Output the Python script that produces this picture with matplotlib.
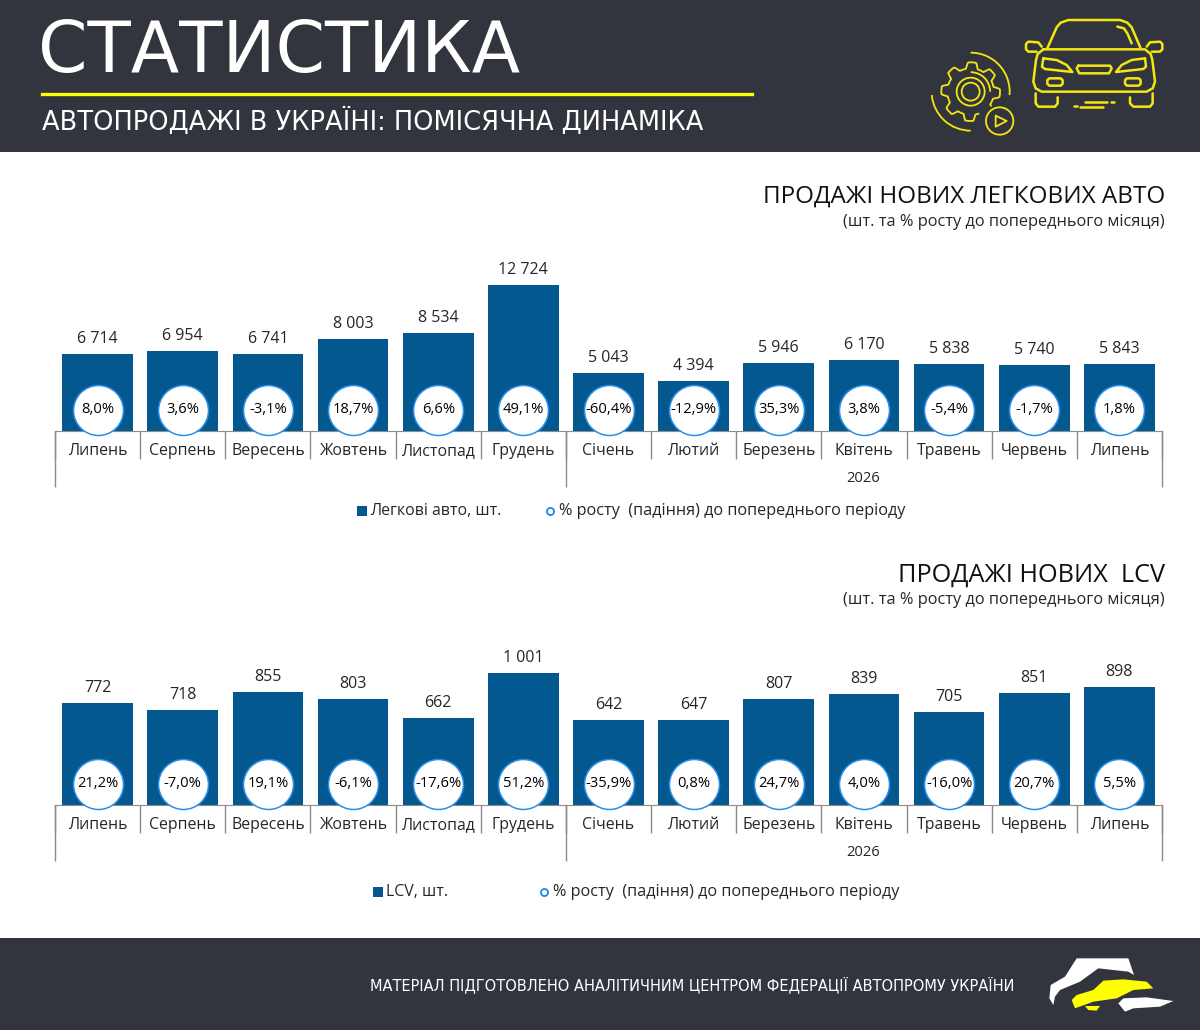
import numpy as np
from matplotlib import pyplot as plt
from matplotlib.patches import Arc, Circle, FancyBboxPatch, Polygon, Rectangle

months = ['Липень', 'Серпень', 'Вересень', 'Жовтень', 'Листопад', 'Грудень', 'Січень',
          'Лютий', 'Березень', 'Квітень', 'Травень', 'Червень', 'Липень']
cars = [6714, 6954, 6741, 8003, 8534, 12724, 5043, 4394, 5946, 6170, 5838, 5740, 5843]
cars_pct = [8.0, 3.6, -3.1, 18.7, 6.6, 49.1, -60.4, -12.9, 35.3, 3.8, -5.4, -1.7, 1.8]
lcv = [772, 718, 855, 803, 662, 1001, 642, 647, 807, 839, 705, 851, 898]
lcv_pct = [21.2, -7.0, 19.1, -6.1, -17.6, 51.2, -35.9, 0.8, 24.7, 4.0, -16.0, 20.7, 5.5]
year_label = '2026'

DARK = '#32353e'
YELLOW = '#ffff00'
ICON = '#f4e610'
BAR = '#03588f'
RING = '#2a8fe8'
GREY = '#8c8c8c'
TEXT = '#262626'
W, H = 1200, 1030

plt.rcParams['font.family'] = ['Open Sans', 'DejaVu Sans']
fig = plt.figure(figsize=(W / 100, H / 100), dpi=100)

page = fig.add_axes([0, 0, 1, 1])
page.set_xlim(0, W)
page.set_ylim(H, 0)
page.axis('off')


def line(points, origin, lw=1.8):
    xs = [origin[0] + p[0] / 3 for p in points]
    ys = [origin[1] + p[1] / 3 for p in points]
    page.plot(xs, ys, color=ICON, lw=lw, solid_capstyle='round', solid_joinstyle='round')


def round_box(x0, y0, x1, y1, origin, pad=3):
    page.add_patch(FancyBboxPatch((origin[0] + x0 / 3, origin[1] + y0 / 3), (x1 - x0) / 3, (y1 - y0) / 3,
                                  boxstyle=f'round,pad=0,rounding_size={pad}', fc='none', ec=ICON, lw=1.8))


def draw_icons():
    o = (900, 10)
    line([(442, 115), (470, 52), (482, 38), (505, 30), (660, 30), (682, 38), (695, 52), (722, 115)], o)
    line([(430, 118), (735, 118), (752, 132), (757, 150), (765, 215), (758, 235), (740, 245), (425, 245),
          (407, 235), (400, 215), (408, 150), (413, 132), (430, 118)], o)
    line([(652, 50), (672, 55), (682, 70), (695, 100)], o)
    line([(425, 110), (415, 97), (385, 95), (378, 102), (378, 118), (385, 125), (410, 125)], o)
    line([(740, 110), (750, 97), (780, 95), (787, 102), (787, 118), (780, 125), (755, 125)], o)
    line([(430, 145), (470, 150), (500, 165), (517, 186), (435, 177), (426, 170), (430, 145)], o)
    line([(735, 145), (695, 150), (665, 165), (648, 186), (730, 177), (738, 170), (735, 145)], o)
    line([(535, 167), (630, 167), (635, 175), (627, 190), (538, 190), (530, 175), (535, 167)], o)
    round_box(442, 205, 488, 227, o)
    round_box(675, 205, 722, 227, o)
    line([(407, 250), (407, 280), (415, 290), (465, 290), (473, 280), (473, 262)], o)
    line([(690, 262), (690, 280), (700, 290), (750, 290), (758, 280), (758, 250)], o)
    line([(555, 277), (622, 277)], o)
    line([(632, 277), (642, 277)], o)
    line([(522, 289), (532, 289)], o)
    line([(540, 290), (610, 290)], o)

    # gear
    cx, cy = 212, 245
    t = np.linspace(np.radians(-35), np.radians(290), 330)
    r = 79 + 9 * np.clip(2.2 * np.cos(8 * t + 0.4), -1, 1)
    line(list(zip(cx + r * np.cos(t), cy - r * np.sin(t))), o, lw=1.3)
    gc = (o[0] + cx / 3, o[1] + cy / 3)
    for radius in (14, 9):
        page.add_patch(Circle(gc, radius, fc='none', ec=ICON, lw=1.3))
    for radius, a0, a1 in ((39, -5, 90), (39, 185, 270), (19.5, 0, 90)):
        # page y axis points down, so the angles run the other way
        page.add_patch(Arc(gc, radius * 2, radius * 2, theta1=-a1, theta2=-a0, ec=ICON, lw=1.3))
    page.add_patch(Circle((o[0] + 299 / 3, o[1] + 333 / 3), 13.7, fc='none', ec=ICON, lw=1.3))
    line([(287, 317), (320, 333), (287, 350), (287, 317)], o, lw=1.3)


def draw_logo():
    o = (960, 940)
    def pts(seq):
        return [(o[0] + x / 3, o[1] + y / 3) for x, y in seq]
    page.add_patch(Polygon(pts([(280, 195), (268, 175), (272, 135), (315, 110), (350, 55), (505, 55), (522, 105),
                                (505, 95), (415, 85), (360, 125), (300, 150), (285, 170)]), fc='white', ec='none'))
    page.add_patch(Polygon(pts([(335, 180), (350, 165), (400, 150), (430, 122), (490, 118), (560, 125), (580, 145),
                                (520, 150), (470, 175), (400, 185), (345, 205)]), fc=YELLOW, ec='none'))
    page.add_patch(Polygon(pts([(375, 198), (420, 198), (410, 212), (385, 210)]), fc=YELLOW, ec='none'))
    page.add_patch(Polygon(pts([(475, 190), (490, 175), (560, 172), (640, 183), (600, 200), (520, 205),
                                (495, 215)]), fc='white', ec='none'))


def draw_chart(values, pct, top, base, px_per_unit):
    left, right = 55, 1162
    ax = fig.add_axes([left / W, 1 - base / H, (right - left) / W, (base - top) / H])
    ax.patch.set_alpha(0)
    x = np.arange(len(values))
    ax.bar(x, values, width=0.83, color=BAR)
    ax.set_xlim(-0.5, len(values) - 0.5)
    ax.set_ylim(0, (base - top) / px_per_unit)
    ax.set_yticks([])
    for side in ('top', 'left', 'right'):
        ax.spines[side].set_visible(False)
    ax.spines['bottom'].set_color(GREY)

    ax.set_xticks(x, months, fontsize=11.4, color=TEXT)
    ax.tick_params(axis='x', length=0, pad=8.5)
    ax.set_xticks(np.arange(-0.5, len(values)), minor=True)
    ax.tick_params(axis='x', which='minor', length=20, color=GREY, width=1)

    years = ax.secondary_xaxis('bottom')
    years.set_xticks([-0.5, 5.5, len(values) - 0.5], labels=['', '', ''])
    years.tick_params(length=40, color=GREY, width=1)
    years.spines['bottom'].set_visible(False)
    ax.annotate(year_label, xy=(8.99, 0), xycoords=('data', 'axes fraction'), xytext=(0, -34.5),
                textcoords='offset points', ha='center', va='center', fontsize=10.6, color=TEXT)

    for xi, v in zip(x, values):
        ax.annotate(f'{v:,}'.replace(',', ' '), xy=(xi, v), xytext=(0, 5), textcoords='offset points',
                    ha='center', va='bottom', fontsize=11.5, color=TEXT)
    level = 21.5 / (base - top)
    ax.scatter(x, np.full(len(x), level), s=1296, transform=ax.get_xaxis_transform(), fc='white', ec=RING,
               lw=1.1, clip_on=False, zorder=4)
    for xi, p in zip(x, pct):
        ax.text(xi, level, f'{p:.1f}%'.replace('.', ','), transform=ax.get_xaxis_transform(), ha='center',
                va='center', fontsize=10.6, color='black', zorder=5)
    return ax


def draw_legend(y, square_x, label, circle_x):
    page.add_patch(Rectangle((square_x, y - 5), 10, 10, fc=BAR, ec='none'))
    page.text(square_x + 13, y, label, fontsize=11.4, color=TEXT, va='center')
    page.scatter([circle_x], [y], s=26, fc='white', ec=RING, lw=1.4)
    page.text(circle_x + 9, y, '% росту  (падіння) до попереднього періоду', fontsize=11.7, color=TEXT, va='center')


page.add_patch(Rectangle((0, 0), W, 152, fc=DARK, ec='none'))
page.add_patch(Rectangle((0, 938), W, 92, fc=DARK, ec='none'))
page.plot([42, 752], [94, 94], color=YELLOW, lw=2.4)
page.text(38, 72, 'СТАТИСТИКА', color='white', fontsize=51, family='DejaVu Sans', va='baseline')
page.text(42, 130, 'АВТОПРОДАЖІ В УКРАЇНІ: ПОМІСЯЧНА ДИНАМІКА', color='white', fontsize=18.5,
          family='DejaVu Sans', va='baseline')
page.text(1015, 985, 'МАТЕРІАЛ ПІДГОТОВЛЕНО АНАЛІТИЧНИМ ЦЕНТРОМ ФЕДЕРАЦІЇ АВТОПРОМУ УКРАЇНИ', color='white',
          fontsize=10.5, family='DejaVu Sans', ha='right', va='center')
draw_icons()
draw_logo()

page.text(1165, 197, 'ПРОДАЖІ НОВИХ ЛЕГКОВИХ АВТО', fontsize=17.5, color='#111111', ha='right', va='center')
page.text(1165, 222, '(шт. та % росту до попереднього місяця)', fontsize=11.8, color=TEXT, ha='right', va='center')
page.text(1165, 575, 'ПРОДАЖІ НОВИХ  LCV', fontsize=18.2, color='#111111', ha='right', va='center')
page.text(1165, 600, '(шт. та % росту до попереднього місяця)', fontsize=11.8, color=TEXT, ha='right', va='center')

draw_chart(cars, cars_pct, 250, 431, 146 / 12724)
draw_chart(lcv, lcv_pct, 640, 805, 132 / 1001)
draw_legend(511, 357, 'Легкові авто, шт.', 550)
draw_legend(892, 373, 'LCV, шт.', 544)

fig.savefig('out.png', dpi=100)
